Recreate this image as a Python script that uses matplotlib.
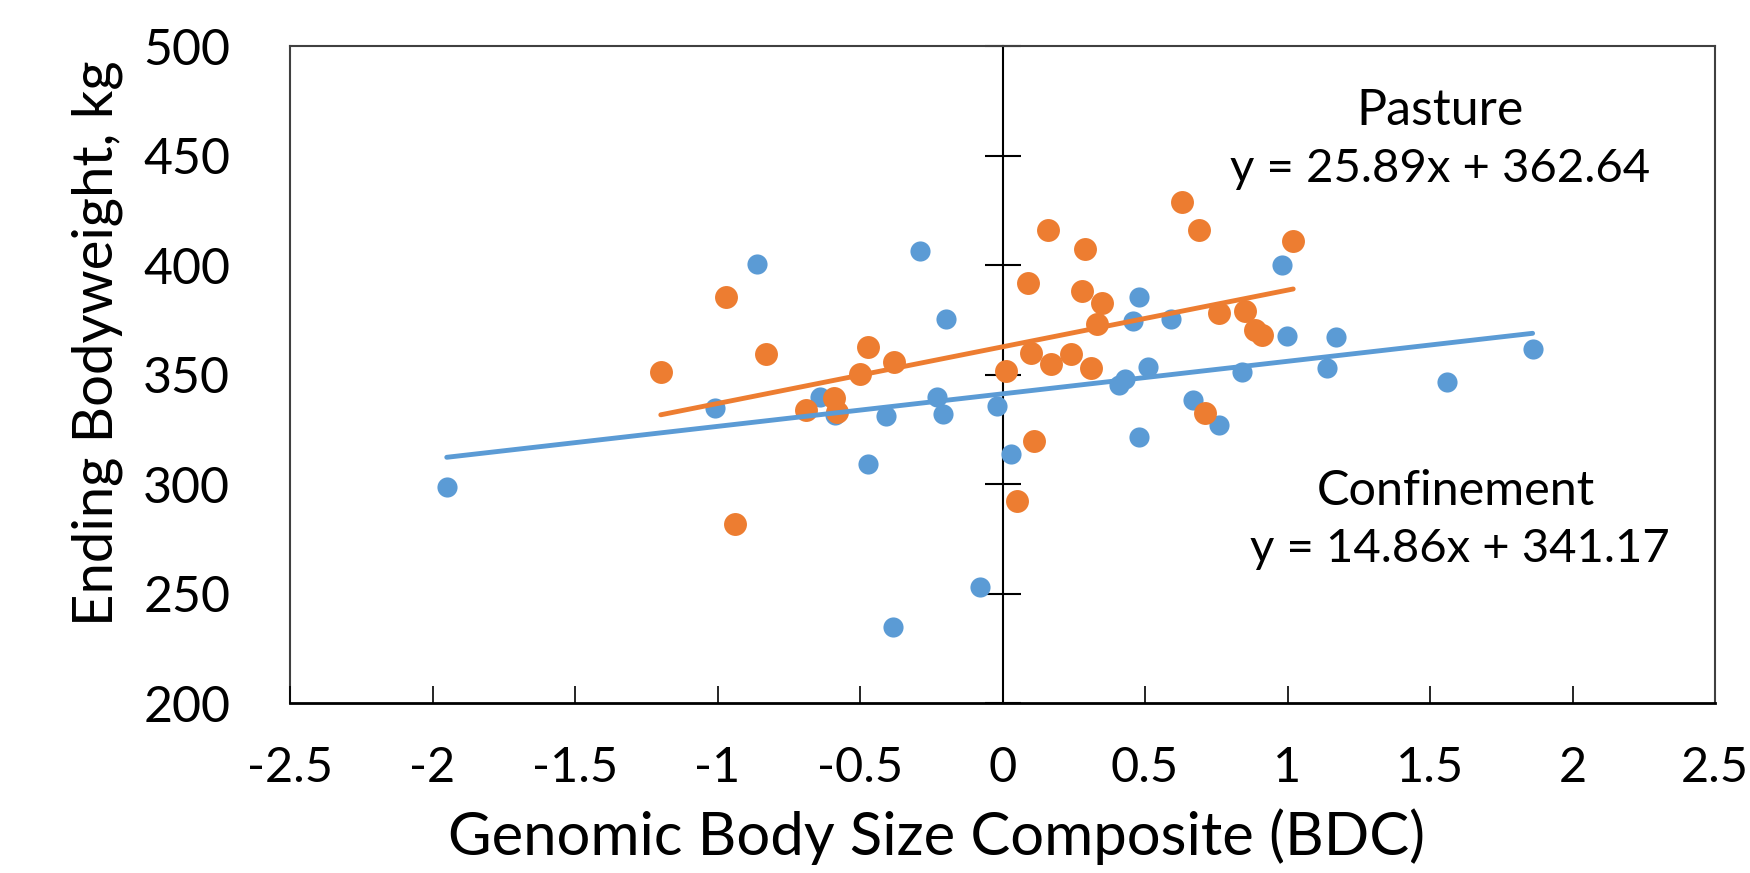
import numpy as np
import matplotlib
matplotlib.use('Agg')
from matplotlib import pyplot as plt

plt.rcParams['font.family'] = ['Lato', 'DejaVu Sans']

# Confinement (blue)
conf_x = [-1.95, -1.01, -0.86, -0.64, -0.586, -0.471, -0.409, -0.385, -0.289, -0.231,
          -0.21, -0.199, -0.079, -0.02, 0.029, 0.41, 0.43, 0.459, 0.48, 0.48,
          0.512, 0.59, 0.67, 0.761, 0.839, 0.98, 0.999, 1.14, 1.17, 1.561, 1.86]
conf_y = [298.5, 334.6, 400.3, 339.9, 331.5, 309.1, 331.2, 234.6, 406.5, 339.6,
          332.0, 375.5, 252.8, 335.6, 313.7, 345.2, 347.8, 374.4, 385.5, 321.6,
          353.6, 375.2, 338.4, 327.1, 351.3, 400.0, 367.7, 352.8, 367.0, 346.7, 361.5]

# Pasture (orange)
past_x = [-1.199, -0.97, -0.939, -0.83, -0.689, -0.591, -0.582, -0.5, -0.471, -0.381,
          0.011, 0.05, 0.091, 0.099, 0.111, 0.161, 0.169, 0.24, 0.28, 0.289,
          0.309, 0.33, 0.348, 0.631, 0.69, 0.711, 0.759, 0.851, 0.886, 0.909, 1.02]
past_y = [351.0, 385.5, 281.6, 359.2, 333.8, 339.1, 333.0, 350.2, 362.4, 355.7,
          351.7, 292.4, 391.6, 359.7, 319.8, 416.0, 354.7, 359.2, 388.1, 407.3,
          352.8, 372.9, 382.8, 428.6, 416.0, 332.3, 378.0, 379.0, 370.5, 368.0, 411.1]

# trendline coefficients (slope, intercept) from the chart labels
conf_fit = (14.86, 341.17)
past_fit = (25.89, 362.64)

xticks = [-2.5, -2, -1.5, -1, -0.5, 0, 0.5, 1, 1.5, 2, 2.5]
xtick_labels = ['-2.5', '-2', '-1.5', '-1', '-0.5', '0', '0.5', '1', '1.5', '2', '2.5']
yticks = [200, 250, 300, 350, 400, 450, 500]

blue = '#5B9BD5'
orange = '#ED7D31'

fig = plt.figure(figsize=(17.5, 8.73), dpi=100)
ax = fig.add_axes([290/1750, 1-703/873, 1425/1750, 657/873])

ax.plot(conf_x, conf_y, 'o', color=blue, markersize=14.5, markeredgewidth=0, zorder=3)
ax.plot(past_x, past_y, 'o', color=orange, markersize=16.5, markeredgewidth=0, zorder=4)

xs = np.array([min(conf_x), max(conf_x)])
ax.plot(xs, conf_fit[0]*xs + conf_fit[1], color=blue, lw=3.5,
        solid_capstyle='round', zorder=5)
xs = np.array([min(past_x), max(past_x)])
ax.plot(xs, past_fit[0]*xs + past_fit[1], color=orange, lw=3.5,
        solid_capstyle='round', zorder=6)

ax.set_xlim(-2.5, 2.5)
ax.set_ylim(200, 500)
ax.set_xticks(xticks)
ax.set_xticklabels(xtick_labels)
ax.set_yticks(yticks)

# vertical axis crosses at x = 0
ax.spines['left'].set_position(('data', 0))
ax.spines['left'].set_color('black')
ax.spines['left'].set_linewidth(1.5)
ax.tick_params(axis='y', direction='inout', length=26, width=1.5, labelleft=False)
ax.tick_params(axis='x', direction='in', length=12, width=1.2, labelsize=35,
               pad=31, colors='black')
ax.spines['bottom'].set_linewidth(2)
for s in ['top', 'right']:
    ax.spines[s].set_color('#404040')
    ax.spines[s].set_linewidth(1.5)

# labels for the y axis sit on the left of the plot area
sec = ax.secondary_yaxis('left')
sec.set_yticks(yticks)
sec.tick_params(length=0, labelsize=36, pad=43)
sec.spines['left'].set_color('#404040')
sec.spines['left'].set_linewidth(1.5)

ax.set_ylabel('Ending Bodyweight, kg', fontsize=40.5, va='center')
ax.yaxis.set_label_coords(-0.135, 0.548)
ax.set_xlabel('Genomic Body Size Composite (BDC)', fontsize=43, va='center')
ax.xaxis.set_label_coords(0.454, -0.204)

ax.text(0.807, 0.8798, 'Pasture', transform=ax.transAxes, fontsize=36,
        ha='center', va='baseline')
ax.text(0.807, 0.7935, 'y = 25.89x + 362.64', transform=ax.transAxes, fontsize=34,
        ha='center', va='baseline')
ax.text(0.818, 0.3014, 'Confinement', transform=ax.transAxes, fontsize=35,
        ha='center', va='baseline')
ax.text(0.821, 0.2151, 'y = 14.86x + 341.17', transform=ax.transAxes, fontsize=34,
        ha='center', va='baseline')

fig.savefig('out.png', dpi=100)
